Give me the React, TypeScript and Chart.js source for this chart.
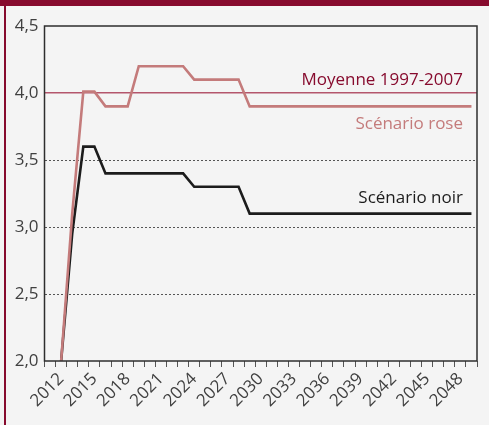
import React, { useEffect, useRef } from 'react';
import { Chart, registerables } from 'chart.js';

Chart.register(...registerables);

// ---- Data ----
const YEARS = [
  '2011', '2012', '2013', '2014', '2015', '2016', '2017', '2018', '2019', '2020',
  '2021', '2022', '2023', '2024', '2025', '2026', '2027', '2028', '2029', '2030',
  '2031', '2032', '2033', '2034', '2035', '2036', '2037', '2038', '2039', '2040',
  '2041', '2042', '2043', '2044', '2045', '2046', '2047', '2048', '2049',
];
const SHOWN_YEAR_LABELS = [
  '2012', '2015', '2018', '2021', '2024', '2027', '2030', '2033', '2036', '2039', '2042', '2045', '2048',
];
const SCENARIO_ROSE = [
  null, 2.0, 3.1, 4.01, 4.01, 3.9, 3.9, 3.9, 4.2, 4.2,
  4.2, 4.2, 4.2, 4.1, 4.1, 4.1, 4.1, 4.1, 3.9, 3.9,
  3.9, 3.9, 3.9, 3.9, 3.9, 3.9, 3.9, 3.9, 3.9, 3.9,
  3.9, 3.9, 3.9, 3.9, 3.9, 3.9, 3.9, 3.9, 3.9,
];
const SCENARIO_NOIR = [
  null, 2.0, 2.95, 3.6, 3.6, 3.4, 3.4, 3.4, 3.4, 3.4,
  3.4, 3.4, 3.4, 3.3, 3.3, 3.3, 3.3, 3.3, 3.1, 3.1,
  3.1, 3.1, 3.1, 3.1, 3.1, 3.1, 3.1, 3.1, 3.1, 3.1,
  3.1, 3.1, 3.1, 3.1, 3.1, 3.1, 3.1, 3.1, 3.1,
];
const MOYENNE_1997_2007 = 4.0;
const Y_MIN = 2.0;
const Y_MAX = 4.5;
const Y_STEP = 0.5;

const LABEL_MOYENNE = 'Moyenne 1997-2007';
const LABEL_ROSE = 'Scénario rose';
const LABEL_NOIR = 'Scénario noir';

// ---- Styles ----
const BG = '#f4f4f4';
const MAROON = '#870b2e';
const AVG_LINE = '#b4566c';
const ROSE = '#c47b7b';
const NOIR = '#1c1c1c';
const TICK_TEXT = '#404040';
const FONT = '"Open Sans", "Noto Sans", sans-serif';

const framePlugin = {
  id: 'frame',
  beforeDraw(chart: any) {
    const { ctx, width, height } = chart;
    ctx.save();
    ctx.fillStyle = BG;
    ctx.fillRect(0, 0, width, height);
    ctx.fillStyle = MAROON;
    ctx.fillRect(0, 0, width, 6);
    ctx.fillRect(4, 0, 2, height);
    ctx.restore();
  },
  afterDraw(chart: any) {
    const { ctx, chartArea } = chart;
    const y = chart.scales.y;
    ctx.save();
    ctx.strokeStyle = '#2e2e2e';
    ctx.lineWidth = 1.5;
    ctx.strokeRect(chartArea.left, chartArea.top, chartArea.right - chartArea.left, chartArea.bottom - chartArea.top);

    ctx.font = `17px ${FONT}`;
    ctx.textAlign = 'right';
    ctx.textBaseline = 'alphabetic';
    const xr = chartArea.right - 14;
    ctx.fillStyle = MAROON;
    ctx.fillText(LABEL_MOYENNE, xr, y.getPixelForValue(MOYENNE_1997_2007) - 8);
    ctx.fillStyle = ROSE;
    ctx.fillText(LABEL_ROSE, xr, y.getPixelForValue(3.9) + 23);
    ctx.fillStyle = NOIR;
    ctx.fillText(LABEL_NOIR, xr, y.getPixelForValue(3.1) - 11);
    ctx.restore();
  },
};

export default function App() {
  const ref = useRef<HTMLCanvasElement | null>(null);

  useEffect(() => {
    if (!ref.current) return;
    const chart = new Chart(ref.current, {
      type: 'line',
      data: {
        labels: YEARS,
        datasets: [
          {
            label: LABEL_ROSE,
            data: SCENARIO_ROSE,
            borderColor: ROSE,
            borderWidth: 2.6,
            pointRadius: 0,
            tension: 0,
            fill: false,
          },
          {
            label: LABEL_NOIR,
            data: SCENARIO_NOIR,
            borderColor: NOIR,
            borderWidth: 2.6,
            pointRadius: 0,
            tension: 0,
            fill: false,
          },
        ],
      },
      options: {
        animation: false,
        responsive: false,
        devicePixelRatio: 1,
        layout: { padding: { top: 26, right: 12, left: 0, bottom: 0 } },
        plugins: {
          legend: { display: false },
          tooltip: { enabled: false },
        },
        scales: {
          x: {
            type: 'category',
            offset: true,
            grid: {
              offset: true,
              drawOnChartArea: false,
              drawTicks: true,
              tickLength: 6,
              tickColor: '#555',
              tickWidth: 1,
            },
            border: { display: false },
            ticks: {
              autoSkip: false,
              maxRotation: 45,
              minRotation: 45,
              padding: 2,
              color: TICK_TEXT,
              font: { family: FONT, size: 17 },
              callback: (_v: any, i: number) => (SHOWN_YEAR_LABELS.includes(YEARS[i]) ? YEARS[i] : ''),
            },
            afterFit: (s: any) => {
              s.height = 64;
              s.paddingLeft = 0;
              s.paddingRight = 0;
            },
          },
          y: {
            min: Y_MIN,
            max: Y_MAX,
            grid: {
              drawTicks: false,
              lineWidth: (c: any) => (c.tick && c.tick.value === MOYENNE_1997_2007 ? 1.4 : 1),
              color: (c: any) => {
                const v = c.tick ? c.tick.value : null;
                if (v === MOYENNE_1997_2007) return AVG_LINE;
                if (v === Y_MIN || v === Y_MAX) return 'rgba(0,0,0,0)';
                return '#555';
              },
            },
            border: {
              display: false,
              dash: (c: any) => (c.tick && c.tick.value !== MOYENNE_1997_2007 ? [2, 2] : []),
            },
            ticks: {
              stepSize: Y_STEP,
              padding: 6,
              color: TICK_TEXT,
              font: { family: FONT, size: 17 },
              callback: (v: any) => Number(v).toFixed(1).replace('.', ','),
            },
            afterFit: (s: any) => {
              s.width = 44.5;
              s.paddingTop = 0;
              s.paddingBottom = 0;
            },
          },
        },
      },
      plugins: [framePlugin],
    } as any);
    return () => chart.destroy();
  }, []);

  return (
    <div style={{ position: 'absolute', left: 0, top: 0, width: 489, height: 425, background: BG }}>
      <canvas ref={ref} width={489} height={425} style={{ display: 'block', width: 489, height: 425 }} />
    </div>
  );
}
